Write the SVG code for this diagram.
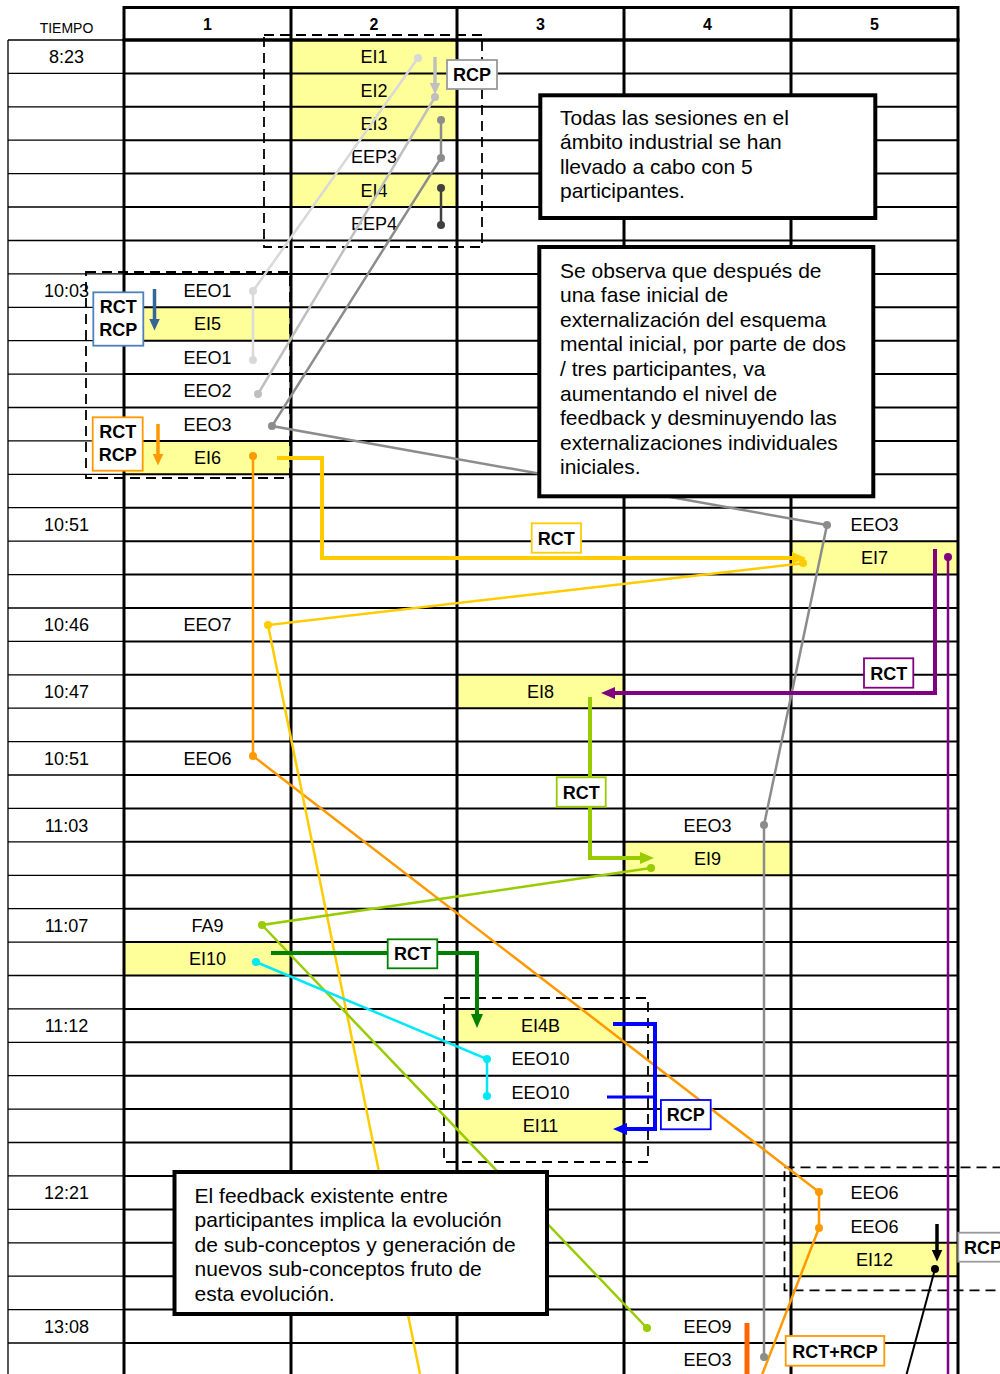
<svg xmlns="http://www.w3.org/2000/svg" width="1000" height="1374" viewBox="0 0 1000 1374">
<style>
text{font-family:"Liberation Sans",Arial,sans-serif;fill:#000}
.t{font-size:18px;text-anchor:middle}
.h{font-size:16px;font-weight:bold;text-anchor:middle}
.b{font-size:18px;font-weight:bold;text-anchor:middle}
.n{font-size:21px}
.y{fill:#FFFF99}
.dash{fill:none;stroke:#000;stroke-width:1.8;stroke-dasharray:10 6}
.lb{fill:#fff;stroke-width:1.8}
.nb{fill:#fff;stroke:#000;stroke-width:4}
.c{fill:none}
</style>
<defs>
<marker id="aP" viewBox="0 0 14 12" refX="3" refY="6" markerWidth="14" markerHeight="12" markerUnits="userSpaceOnUse" orient="auto"><path d="M0,0L14,6L0,12z" fill="#800080"/></marker>
<marker id="aG" viewBox="0 0 14 12" refX="3" refY="6" markerWidth="14" markerHeight="12" markerUnits="userSpaceOnUse" orient="auto"><path d="M0,0L14,6L0,12z" fill="#99CC00"/></marker>
<marker id="aD" viewBox="0 0 14 12" refX="3" refY="6" markerWidth="14" markerHeight="12" markerUnits="userSpaceOnUse" orient="auto"><path d="M0,0L14,6L0,12z" fill="#008000"/></marker>
<marker id="aB" viewBox="0 0 14 12" refX="3" refY="6" markerWidth="14" markerHeight="12" markerUnits="userSpaceOnUse" orient="auto"><path d="M0,0L14,6L0,12z" fill="#0000FF"/></marker>
<marker id="aY" viewBox="0 0 14 12" refX="3" refY="6" markerWidth="14" markerHeight="12" markerUnits="userSpaceOnUse" orient="auto"><path d="M0,0L14,6L0,12z" fill="#FFCC00"/></marker>
<marker id="sB" viewBox="0 0 12 11" refX="2.5" refY="5.5" markerWidth="12" markerHeight="11" markerUnits="userSpaceOnUse" orient="auto"><path d="M0,0L12,5.5L0,11z" fill="#336699"/></marker>
<marker id="sO" viewBox="0 0 12 11" refX="2.5" refY="5.5" markerWidth="12" markerHeight="11" markerUnits="userSpaceOnUse" orient="auto"><path d="M0,0L12,5.5L0,11z" fill="#FF9900"/></marker>
<marker id="sGr" viewBox="0 0 12 11" refX="2.5" refY="5.5" markerWidth="12" markerHeight="11" markerUnits="userSpaceOnUse" orient="auto"><path d="M0,0L12,5.5L0,11z" fill="#BFBFBF"/></marker>
<marker id="sK" viewBox="0 0 12 11" refX="2.5" refY="5.5" markerWidth="12" markerHeight="11" markerUnits="userSpaceOnUse" orient="auto"><path d="M0,0L12,5.5L0,11z" fill="#000"/></marker>
</defs>
<rect x="0" y="0" width="1000" height="1374" fill="#fff"/>

<g id="header">
<text x="66.5" y="33.3" style="font-size:14px;text-anchor:middle">TIEMPO</text>
<text class="h" x="207.5" y="29.5">1</text>
<text class="h" x="374" y="29.5">2</text>
<text class="h" x="540.5" y="29.5">3</text>
<text class="h" x="707.5" y="29.5">4</text>
<text class="h" x="874.5" y="29.5">5</text>
</g>

<g id="times" class="t">
<text x="66.5" y="63.1">8:23</text>
<text x="66.5" y="297">10:03</text>
<text x="66.5" y="530.8">10:51</text>
<text x="66.5" y="631.1">10:46</text>
<text x="66.5" y="697.9">10:47</text>
<text x="66.5" y="764.7">10:51</text>
<text x="66.5" y="831.5">11:03</text>
<text x="66.5" y="931.8">11:07</text>
<text x="66.5" y="1032">11:12</text>
<text x="66.5" y="1199">12:21</text>
<text x="66.5" y="1332.7">13:08</text>
</g>

<g id="nodes" class="t">
<g id="EI1"><rect class="y" x="291" y="40" width="166" height="33.4"/><text x="374" y="63.1">EI1</text></g>
<g id="EI2"><rect class="y" x="291" y="73.4" width="166" height="33.4"/><text x="374" y="96.5">EI2</text></g>
<g id="EI3"><rect class="y" x="291" y="106.8" width="166" height="33.4"/><text x="374" y="129.9">EI3</text></g>
<g id="EEP3"><text x="374" y="163.3">EEP3</text></g>
<g id="EI4"><rect class="y" x="291" y="173.6" width="166" height="33.4"/><text x="374" y="196.7">EI4</text></g>
<g id="EEP4"><text x="374" y="230.1">EEP4</text></g>
<g id="EEO1a"><text x="207.5" y="297">EEO1</text></g>
<g id="EI5"><rect class="y" x="124" y="307.3" width="167" height="33.4"/><text x="207.5" y="330.4">EI5</text></g>
<g id="EEO1b"><text x="207.5" y="363.8">EEO1</text></g>
<g id="EEO2"><text x="207.5" y="397.2">EEO2</text></g>
<g id="EEO3a"><text x="207.5" y="430.6">EEO3</text></g>
<g id="EI6"><rect class="y" x="124" y="440.9" width="167" height="33.4"/><text x="207.5" y="464">EI6</text></g>
<g id="EEO3b"><text x="874.5" y="530.8">EEO3</text></g>
<g id="EI7"><rect class="y" x="791" y="541.2" width="167" height="33.4"/><text x="874.5" y="564.3">EI7</text></g>
<g id="EEO7"><text x="207.5" y="631.1">EEO7</text></g>
<g id="EI8"><rect class="y" x="457" y="674.8" width="167" height="33.4"/><text x="540.5" y="697.9">EI8</text></g>
<g id="EEO6a"><text x="207.5" y="764.7">EEO6</text></g>
<g id="EEO3c"><text x="707.5" y="831.5">EEO3</text></g>
<g id="EI9"><rect class="y" x="624" y="841.8" width="167" height="33.4"/><text x="707.5" y="864.9">EI9</text></g>
<g id="FA9"><text x="207.5" y="931.8">FA9</text></g>
<g id="EI10"><rect class="y" x="124" y="942.1" width="167" height="33.4"/><text x="207.5" y="965.2">EI10</text></g>
<g id="EI4B"><rect class="y" x="457" y="1008.9" width="167" height="33.4"/><text x="540.5" y="1032">EI4B</text></g>
<g id="EEO10a"><text x="540.5" y="1065.4">EEO10</text></g>
<g id="EEO10b"><text x="540.5" y="1098.8">EEO10</text></g>
<g id="EI11"><rect class="y" x="457" y="1109.1" width="167" height="33.4"/><text x="540.5" y="1132.2">EI11</text></g>
<g id="EEO6b"><text x="874.5" y="1199">EEO6</text></g>
<g id="EEO6c"><text x="874.5" y="1232.5">EEO6</text></g>
<g id="EI12"><rect class="y" x="791" y="1242.8" width="167" height="33.4"/><text x="874.5" y="1265.9">EI12</text></g>
<g id="EEO9"><text x="707.5" y="1332.7">EEO9</text></g>
<g id="EEO3d"><text x="707.5" y="1366.1">EEO3</text></g>
</g>

<g id="grid" fill="none" stroke="#000">
<path stroke-width="1.3" d="M8,40H124M8,73.4H124M8,106.8H124M8,140.2H124M8,173.6H124M8,207H124M8,240.5H124M8,273.9H124M8,307.3H124M8,340.7H124M8,374.1H124M8,407.5H124M8,440.9H124M8,474.3H124M8,507.7H124M8,541.2H124M8,574.6H124M8,608H124M8,641.4H124M8,674.8H124M8,708.2H124M8,741.6H124M8,775H124M8,808.4H124M8,841.8H124M8,875.3H124M8,908.7H124M8,942.1H124M8,975.5H124M8,1008.9H124M8,1042.3H124M8,1075.7H124M8,1109.1H124M8,1142.5H124M8,1175.9H124M8,1209.4H124M8,1242.8H124M8,1276.2H124M8,1309.6H124M8,1343H124M8,40V1374"/>
<path stroke-width="2" d="M124,73.4H958M124,106.8H958M124,140.2H958M124,173.6H958M124,207H958M124,240.5H958M124,273.9H958M124,307.3H958M124,340.7H958M124,374.1H958M124,407.5H958M124,440.9H958M124,474.3H958M124,507.7H958M124,541.2H958M124,574.6H958M124,608H958M124,641.4H958M124,674.8H958M124,708.2H958M124,741.6H958M124,775H958M124,808.4H958M124,841.8H958M124,875.3H958M124,908.7H958M124,942.1H958M124,975.5H958M124,1008.9H958M124,1042.3H958M124,1075.7H958M124,1109.1H958M124,1142.5H958M124,1175.9H958M124,1209.4H958M124,1242.8H958M124,1276.2H958M124,1309.6H958M124,1343H958"/>
<path stroke-width="3" d="M124,6V1374M291,6V1374M457,6V1374M624,6V1374M791,6V1374M958,6V1374M122.5,7.5H959.5"/>
<path stroke-width="3.5" d="M122.5,40H959.5"/>
</g>

<g id="groups">
<rect class="dash" x="264" y="35" width="218" height="212"/>
<rect class="dash" x="86" y="272" width="204" height="206"/>
<rect class="dash" x="444" y="998" width="204" height="164"/>
<rect class="dash" x="784.5" y="1167.3" width="300" height="123"/>
</g>

<g id="connectors" class="c" stroke-linejoin="miter">
<path d="M418,58L253,291L253,360" stroke="#D9D9D9" stroke-width="2.5"/>
<path d="M435,97L258,394" stroke="#BFBFBF" stroke-width="2.5"/>
<path d="M435,57V85" stroke="#BFBFBF" stroke-width="3.5" marker-end="url(#sGr)"/>
<path d="M441,120L441,158L272,426L827,525L764,825L764,1357" stroke="#8C8C8C" stroke-width="2.5"/>
<path d="M441,188V225" stroke="#404040" stroke-width="2.5"/>
<path d="M253,456V756L819,1192V1228L760,1380" stroke="#FF9900" stroke-width="2.5"/>
<path d="M277,458H322V558H795" stroke="#FFCC00" stroke-width="4" marker-end="url(#aY)"/>
<path d="M805,563L268,625L420,1374" stroke="#FFCC00" stroke-width="2.5"/>
<path d="M935,549V693H612" stroke="#800080" stroke-width="4" marker-end="url(#aP)"/>
<path d="M948,557V1380" stroke="#800080" stroke-width="2.5"/>
<path d="M590,697V858H643" stroke="#99CC00" stroke-width="4" marker-end="url(#aG)"/>
<path d="M651,868L262,925L647,1328" stroke="#99CC00" stroke-width="2.5"/>
<path d="M271,953H477V1017" stroke="#008000" stroke-width="4" marker-end="url(#aD)"/>
<path d="M256,962L487,1059V1096" stroke="#00E8F8" stroke-width="2.5"/>
<path d="M613,1024H655V1129H624" stroke="#0000FF" stroke-width="4" marker-end="url(#aB)"/>
<path d="M607,1097H655" stroke="#0000FF" stroke-width="3"/>
<path d="M935,1269L905,1380" stroke="#000" stroke-width="2"/>
<path d="M937,1224V1252" stroke="#000" stroke-width="3.5" marker-end="url(#sK)"/>
<path d="M747,1323V1380" stroke="#FF6600" stroke-width="5"/>
<path d="M154.5,289V321" stroke="#336699" stroke-width="3.5" marker-end="url(#sB)"/>
<path d="M158,424V456" stroke="#FF9900" stroke-width="3.5" marker-end="url(#sO)"/>
<g stroke="none">
<circle cx="418" cy="58" r="4" fill="#D9D9D9"/><circle cx="253" cy="291" r="4" fill="#D9D9D9"/><circle cx="253" cy="360" r="4" fill="#D9D9D9"/>
<circle cx="435" cy="97" r="4" fill="#BFBFBF"/><circle cx="258" cy="394" r="4" fill="#BFBFBF"/>
<circle cx="441" cy="120" r="4" fill="#8C8C8C"/><circle cx="441" cy="158" r="4" fill="#8C8C8C"/><circle cx="272" cy="426" r="4" fill="#8C8C8C"/><circle cx="827" cy="525" r="4" fill="#8C8C8C"/><circle cx="764" cy="825" r="4" fill="#8C8C8C"/><circle cx="764" cy="1357" r="4" fill="#8C8C8C"/>
<circle cx="441" cy="188" r="4" fill="#404040"/><circle cx="441" cy="225" r="4" fill="#404040"/>
<circle cx="253" cy="456" r="4" fill="#FF9900"/><circle cx="253" cy="756" r="4" fill="#FF9900"/><circle cx="819" cy="1192" r="4" fill="#FF9900"/><circle cx="819" cy="1228" r="4" fill="#FF9900"/>
<circle cx="803" cy="563" r="4" fill="#FFCC00"/><circle cx="268" cy="625" r="4" fill="#FFCC00"/>
<circle cx="948" cy="557" r="4" fill="#800080"/>
<circle cx="651" cy="868" r="4" fill="#99CC00"/><circle cx="262" cy="925" r="4" fill="#99CC00"/><circle cx="647" cy="1328" r="4" fill="#99CC00"/>
<circle cx="256" cy="962" r="4" fill="#00E8F8"/><circle cx="487" cy="1059" r="4" fill="#00E8F8"/><circle cx="487" cy="1096" r="4" fill="#00E8F8"/>
<circle cx="935" cy="1269" r="4" fill="#000"/>
</g>
</g>

<g id="note1">
<rect class="nb" x="540.3" y="95.3" width="335" height="122.7"/>
<text class="n" x="560" y="124.5">Todas las sesiones en el</text>
<text class="n" x="560" y="149">ámbito industrial se han</text>
<text class="n" x="560" y="173.5">llevado a cabo con 5</text>
<text class="n" x="560" y="198">participantes.</text>
</g>
<g id="note2">
<rect class="nb" x="539.3" y="247" width="334" height="249.3"/>
<text class="n" x="560" y="277.5">Se observa que después de</text>
<text class="n" x="560" y="302.1">una fase inicial de</text>
<text class="n" x="560" y="326.7">externalización del esquema</text>
<text class="n" x="560" y="351.3">mental inicial, por parte de dos</text>
<text class="n" x="560" y="375.9">/ tres participantes, va</text>
<text class="n" x="560" y="400.5">aumentando el nivel de</text>
<text class="n" x="560" y="425.1">feedback y desminuyendo las</text>
<text class="n" x="560" y="449.7">externalizaciones individuales</text>
<text class="n" x="560" y="474.3">iniciales.</text>
</g>
<g id="note3">
<rect class="nb" x="174.5" y="1172" width="372.5" height="142"/>
<text class="n" x="194.6" y="1202.5">El feedback existente entre</text>
<text class="n" x="194.6" y="1227">participantes implica la evolución</text>
<text class="n" x="194.6" y="1251.5">de sub-conceptos y generación de</text>
<text class="n" x="194.6" y="1276">nuevos sub-conceptos fruto de</text>
<text class="n" x="194.6" y="1300.5">esta evolución.</text>
</g>

<g id="labels">
<g id="lbl-rcp1"><rect class="lb" x="447" y="60" width="50" height="29" stroke="#999"/><text class="b" x="472" y="81">RCP</text></g>
<g id="lbl-rctrcp-blue"><rect class="lb" x="93.3" y="292.3" width="50" height="53.4" stroke="#4F81BD"/><text class="b" x="118.3" y="313">RCT</text><text class="b" x="118.3" y="336">RCP</text></g>
<g id="lbl-rctrcp-orange"><rect class="lb" x="92.7" y="417.3" width="50" height="53.4" stroke="#FF9900"/><text class="b" x="117.7" y="438">RCT</text><text class="b" x="117.7" y="461">RCP</text></g>
<g id="lbl-rct-gold"><rect class="lb" x="531.7" y="523.3" width="49.3" height="29.4" stroke="#FFCC00"/><text class="b" x="556.3" y="544.5">RCT</text></g>
<g id="lbl-rct-purple"><rect class="lb" x="864" y="658.3" width="49.3" height="29.4" stroke="#800080"/><text class="b" x="888.7" y="679.5">RCT</text></g>
<g id="lbl-rct-green"><rect class="lb" x="556.7" y="777.3" width="49" height="29.4" stroke="#99CC00"/><text class="b" x="581.2" y="798.5">RCT</text></g>
<g id="lbl-rct-dkgreen"><rect class="lb" x="387.7" y="939.3" width="49.6" height="29" stroke="#008000"/><text class="b" x="412.5" y="960.3">RCT</text></g>
<g id="lbl-rcp-blue"><rect class="lb" x="660.9" y="1100" width="49.8" height="29.3" stroke="#0000FF"/><text class="b" x="685.8" y="1121.2">RCP</text></g>
<g id="lbl-rcp2"><rect class="lb" x="958.3" y="1232.7" width="52" height="29" stroke="#999"/><text class="b" x="964" y="1253.5" style="text-anchor:start">RCP</text></g>
<g id="lbl-rctrcp"><rect class="lb" x="785.7" y="1336" width="98.6" height="29.7" stroke="#FF9900"/><text class="b" x="835" y="1357.5">RCT+RCP</text></g>
</g>
</svg>
